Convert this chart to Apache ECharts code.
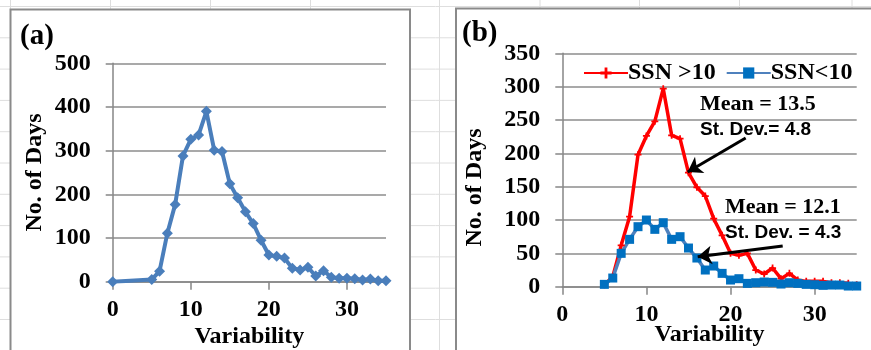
<!DOCTYPE html>
<html>
<head>
<meta charset="utf-8">
<script src="https://cdn.jsdelivr.net/npm/echarts@6/dist/echarts.min.js"></script>
<style>
  html, body { margin: 0; padding: 0; background: #fff; }
  #chart { width: 871px; height: 350px; }
</style>
</head>
<body>
<div id="chart"></div>
<script>
// panel (a): all days
var varA = [0, 5, 6, 7, 8, 9, 10, 11, 12, 13, 14, 15, 16, 17, 18, 19, 20, 21, 22, 23, 24, 25, 26, 27, 28, 29, 30, 31, 32, 33, 34, 35];
var daysA = [0, 5, 24, 111, 177, 288, 326, 336, 390, 301, 298, 224, 192, 160, 133, 95, 61, 58, 54, 31, 27, 33, 13, 25, 10, 8, 8, 7, 4, 6, 2, 2];

// panel (b): split by sunspot number
var varB = [5, 6, 7, 8, 9, 10, 11, 12, 13, 14, 15, 16, 17, 18, 19, 20, 21, 22, 23, 24, 25, 26, 27, 28, 29, 30, 31, 32, 33, 34, 35];
var ssnHigh = [3, 15, 62, 105, 198, 226, 248, 297, 227, 222, 171, 149, 136, 102, 77, 50, 47, 50, 25, 19, 28, 12, 20, 10, 8, 8, 8, 6, 6, 5, 3];
var ssnLow = [3.5, 13, 50, 71, 90, 100, 86, 96, 71, 75, 58, 43, 25, 31, 20, 10, 12, 5, 6, 7, 6.5, 4, 6, 5, 3.5, 3, 2, 2.5, 2.5, 1, 1];

var seriesNames = ["SSN >10", "SSN<10"];
var notes = [
  ["Mean = 13.5", "St. Dev.= 4.8"],
  ["Mean = 12.1", "St. Dev. = 4.3"]
];

var serif = "'Liberation Serif', 'Times New Roman', serif";
var sans = "'Liberation Sans', Arial, sans-serif";
var axisGray = "#868686";

function pairs(xs, ys) {
  return xs.map(function (x, i) { return [x, ys[i]]; });
}

function xAxisOf(idx, gap) {
  return {
    type: "value", gridIndex: idx, min: 0, max: 35, interval: 10,
    name: "Variability", nameLocation: "middle", nameGap: gap, nameMoveOverlap: false,
    nameTextStyle: { fontFamily: serif, fontWeight: "bold", fontSize: 24, color: "#000" },
    axisLine: { show: true, onZero: false, lineStyle: { color: axisGray, width: 1.5 } },
    axisTick: { show: true, length: 8, lineStyle: { color: axisGray, width: 1.5 } },
    axisLabel: { margin: 16, showMaxLabel: false, fontFamily: serif, fontWeight: "bold", fontSize: 24, color: "#000" },
    splitLine: { show: false }
  };
}

function yAxisOf(idx, max, step, gap, pad) {
  return {
    type: "value", gridIndex: idx, min: 0, max: max, interval: step,
    name: "No. of Days", nameLocation: "middle", nameGap: gap, nameMoveOverlap: false,
    nameTextStyle: { fontFamily: serif, fontWeight: "bold", fontSize: 24, color: "#000", padding: pad },
    axisLine: { show: true, lineStyle: { color: axisGray, width: 1.5 } },
    axisTick: { show: true, length: 7, lineStyle: { color: axisGray, width: 1.5 } },
    axisLabel: { margin: 22, fontFamily: serif, fontWeight: "bold", fontSize: 24, color: "#000" },
    splitLine: { show: true, lineStyle: { color: "#8c8c8c", width: 1.5 } }
  };
}

// spreadsheet cell lines behind the two chart frames
var bg = [];
[10.5, 110.5, 210.5, 310.5, 439.5, 540, 639.5, 739.5, 852].forEach(function (x) {
  bg.push({ type: "line", z: -20, silent: true, shape: { x1: x, y1: 0, x2: x, y2: 350 }, style: { stroke: "#dedede", lineWidth: 1 } });
});
for (var y = 6.5; y < 350; y += 31.3) {
  bg.push({ type: "line", z: -20, silent: true, shape: { x1: 0, y1: y, x2: 871, y2: y }, style: { stroke: "#dedede", lineWidth: 1 } });
}
bg.push({ type: "rect", z: -10, silent: true, shape: { x: 10.5, y: 9.5, width: 399.5, height: 360 }, style: { fill: "#fff", stroke: "#8a8a8a", lineWidth: 2 } });
bg.push({ type: "rect", z: -10, silent: true, shape: { x: 456, y: 8.5, width: 430, height: 360 }, style: { fill: "#fff", stroke: "#8a8a8a", lineWidth: 2 } });

function label(txt, x, y, font) {
  return { type: "text", z: 20, silent: true, x: x, y: y, style: { text: txt, font: font, fill: "#000", verticalAlign: "middle", align: "left" } };
}
bg.push(label("(a)", 20, 37, "bold 29px " + serif));
bg.push(label("(b)", 462, 34, "bold 29px " + serif));
bg.push(label(notes[0][0], 700, 104, "bold 22px " + serif));
bg.push(label(notes[0][1], 700, 130, "bold 19px " + sans));
bg.push(label(notes[1][0], 725, 207.5, "bold 22px " + serif));
bg.push(label(notes[1][1], 725, 232.5, "bold 19px " + sans));

var plusMark = "path://M3,0H5V3H8V5H5V8H3V5H0V3H3Z";

var option = {
  animation: false,
  graphic: { elements: bg },
  grid: [
    { left: 112.7, top: 63.3, width: 273.3, height: 218.4, outerBoundsMode: "none" },
    { left: 562.3, top: 53.3, width: 294.4, height: 233.4, outerBoundsMode: "none" }
  ],
  legend: {
    data: seriesNames,
    left: 578, top: 56,
    itemWidth: 44, itemHeight: 14, itemGap: 10,
    textStyle: { fontFamily: serif, fontWeight: "bold", fontSize: 24, color: "#000", padding: [0, 0, 0, -5] }
  },
  xAxis: [xAxisOf(0, 43), xAxisOf(1, 36)],
  yAxis: [yAxisOf(0, 500, 100, 66, 0), yAxisOf(1, 350, 50, 76, [0, 35, 0, 0])],
  series: [
    {
      type: "line", name: "All", xAxisIndex: 0, yAxisIndex: 0,
      data: pairs(varA, daysA),
      symbol: "diamond", symbolSize: 11,
      lineStyle: { color: "#4a7ebb", width: 4 },
      itemStyle: { color: "#4a7ebb" }
    },
    {
      type: "line", name: seriesNames[0], xAxisIndex: 1, yAxisIndex: 1,
      data: pairs(varB, ssnHigh),
      symbol: plusMark, symbolSize: 7,
      lineStyle: { color: "#ff0000", width: 3.5 },
      itemStyle: { color: "#ff0000" },
      markLine: {
        silent: true, symbol: ["none", "arrow"], symbolSize: 14,
        label: { show: false },
        lineStyle: { color: "#000", width: 3, type: "solid" },
        data: [
          [{ coord: [21.8, 223] }, { coord: [14.9, 172] }],
          [{ coord: [26.2, 61] }, { coord: [16.1, 45] }]
        ]
      }
    },
    {
      type: "line", name: seriesNames[1], xAxisIndex: 1, yAxisIndex: 1,
      data: pairs(varB, ssnLow),
      symbol: "rect", symbolSize: 9,
      lineStyle: { color: "#4f81bd", width: 3.5 },
      itemStyle: { color: "#0070c0" }
    }
  ]
};

var chart = echarts.init(document.getElementById("chart"), null, { renderer: "canvas" });
chart.setOption(option);
</script>
</body>
</html>
